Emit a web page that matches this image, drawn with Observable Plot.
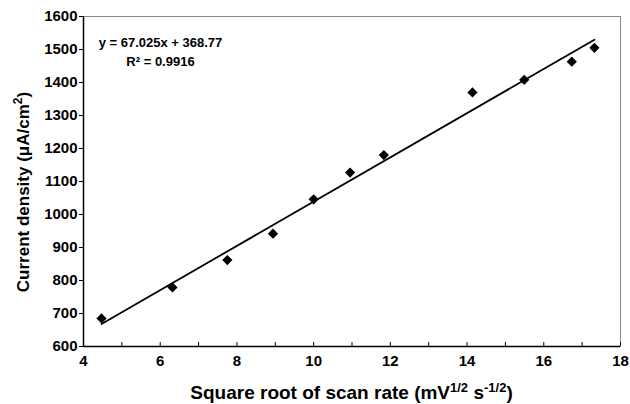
<!DOCTYPE html>
<html><head><meta charset="utf-8">
<script src="https://cdn.jsdelivr.net/npm/d3@7"></script>
<script src="https://cdn.jsdelivr.net/npm/@observablehq/plot@0.6"></script>
<style>body{margin:0;background:#fff} #chart svg{display:block}</style>
</head><body><div id="chart"></div>
<script>
// Data
const sqrtScanRate = [4.47, 6.32, 7.75, 8.94, 10.0, 10.95, 11.83, 14.14, 15.49, 16.73, 17.32];
const currentDensity = [685, 779, 862, 942, 1046, 1127, 1180, 1370, 1408, 1463, 1505];
const fitSlope = 67.025;
const fitIntercept = 368.77;
const equationText = "y = 67.025x + 368.77";
const r2Text = "R\u00B2 = 0.9916";
const xTicks = [4, 6, 8, 10, 12, 14, 16, 18];
const xMinorTicks = [4, 5, 6, 7, 8, 9, 10, 11, 12, 13, 14, 15, 16, 17, 18];
const yTicks = [600, 700, 800, 900, 1000, 1100, 1200, 1300, 1400, 1500, 1600];

const points = sqrtScanRate.map((x, i) => ({x, y: currentDensity[i]}));
const xExt = d3.extent(sqrtScanRate);
const fitLine = xExt.map(x => ({x, y: fitSlope * x + fitIntercept}));

const W = 630, H = 404;
const mL = 83, mR = 10, mT = 16, mB = 58;

const chart = Plot.plot({
  width: W, height: H,
  marginLeft: mL, marginRight: mR, marginTop: mT, marginBottom: mB,
  style: {fontFamily: "'Liberation Sans', Arial, Helvetica, sans-serif", fontSize: "15px", fontWeight: "bold", color: "#000", background: "#fff"},
  x: {domain: [4, 18], label: null},
  y: {domain: [600, 1600], label: null},
  marks: [
    Plot.frame({stroke: "#8a8a8a", strokeWidth: 1}),
    Plot.ruleX(xMinorTicks, {x: d => d, insetTop: H - mT - mB - 4, stroke: "#000", strokeWidth: 1}),
    Plot.axisY({ticks: yTicks, tickFormat: d3.format("d"), tickSize: 4, tickPadding: 2, label: null, fontSize: 15, fontWeight: "bold"}),
    Plot.axisX({ticks: xTicks, tickFormat: d3.format("d"), tickSize: 0, tickPadding: 9, label: null, fontSize: 15, fontWeight: "bold"}),
    Plot.line(fitLine, {x: "x", y: "y", stroke: "#000", strokeWidth: 1.8}),
    Plot.dot(points, {x: "x", y: "y", symbol: "diamond2", r: 4.6, fill: "#000", stroke: "none"}),
    Plot.ruleX([4], {stroke: "#000", strokeWidth: 1.5}),
    Plot.ruleY([600], {stroke: "#000", strokeWidth: 1.5}),
    Plot.text([equationText], {frameAnchor: "top-left", dx: 77, dy: 21, textAnchor: "middle", fontSize: 13, fontWeight: "bold", fill: "#000"}),
    Plot.text([r2Text], {frameAnchor: "top-left", dx: 77, dy: 40, textAnchor: "middle", fontSize: 13, fontWeight: "bold", fill: "#000"})
  ]
});
document.getElementById("chart").appendChild(chart);

// Axis titles with superscripts
const svg = d3.select(chart);
const yTitle = svg.append("text")
  .attr("transform", "translate(28.5,192) rotate(-90)")
  .attr("text-anchor", "middle")
  .attr("font-size", 17).attr("font-weight", "bold").attr("fill", "#000");
yTitle.append("tspan").text("Current density (\u03BCA/cm");
yTitle.append("tspan").attr("font-size", 12).attr("dy", -7).text("2");
yTitle.append("tspan").attr("dy", 7).text(")");

const xTitle = svg.append("text")
  .attr("x", 351.5).attr("y", 399)
  .attr("text-anchor", "middle")
  .attr("font-size", 19).attr("font-weight", "bold").attr("fill", "#000");
xTitle.append("tspan").text("Square root of scan rate (mV");
xTitle.append("tspan").attr("font-size", 13).attr("dy", -7).text("1/2");
xTitle.append("tspan").attr("dy", 7).text(" s");
xTitle.append("tspan").attr("font-size", 13).attr("dy", -7).text("-1/2");
xTitle.append("tspan").attr("dy", 7).text(")");
</script>
</body></html>
